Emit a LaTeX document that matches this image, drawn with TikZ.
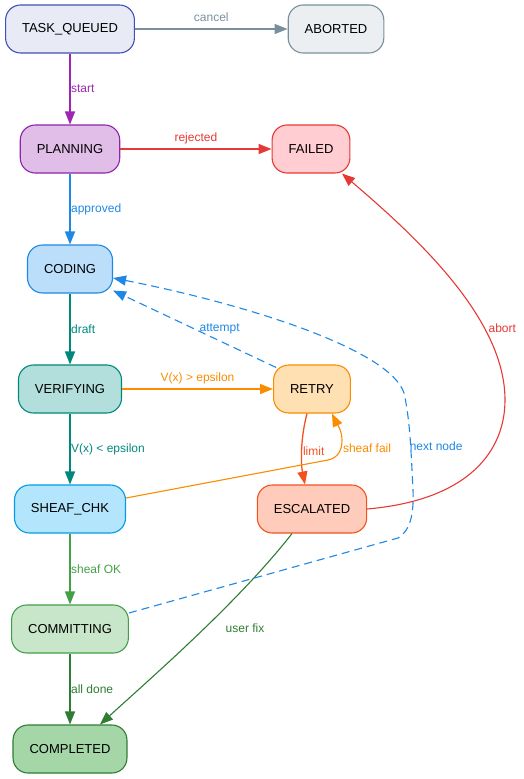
\documentclass[tikz,border=0pt]{standalone}
\usepackage{fontspec}
\setmainfont{Liberation Sans}
\usetikzlibrary{arrows.meta}

\definecolor{tqline}{HTML}{3F51B5}  \definecolor{tqfill}{HTML}{E8EAF6}
\definecolor{abline}{HTML}{78909C}  \definecolor{abfill}{HTML}{ECEFF1}
\definecolor{plline}{HTML}{8E24AA}  \definecolor{plfill}{HTML}{E1BEE7}
\definecolor{faline}{HTML}{E53935}  \definecolor{fafill}{HTML}{FFCDD2}
\definecolor{coline}{HTML}{1E88E5}  \definecolor{cofill}{HTML}{BBDEFB}
\definecolor{veline}{HTML}{00897B}  \definecolor{vefill}{HTML}{B2DFDB}
\definecolor{reline}{HTML}{FB8C00}  \definecolor{refill}{HTML}{FFE0B2}
\definecolor{shline}{HTML}{039BE5}  \definecolor{shfill}{HTML}{B3E5FC}
\definecolor{esline}{HTML}{F4511E}  \definecolor{esfill}{HTML}{FFCCBC}
\definecolor{cmline}{HTML}{43A047}  \definecolor{cmfill}{HTML}{C8E6C9}
\definecolor{cpline}{HTML}{2E7D32}  \definecolor{cpfill}{HTML}{A5D6A7}
\definecolor{startc}{HTML}{9C27B0}

\begin{document}
\begin{tikzpicture}[x=1pt, y=-1pt, >={Triangle[length=13pt,width=10pt]},
    state/.style 2 args={draw=#1, fill=#2, line width=1.1pt, rounded corners=15pt,
        minimum height=48pt, inner xsep=16.5pt, font=\fontsize{13}{15}\selectfont},
    flow/.style={->, line width=1.3pt},
    loose/.style={flow, dash pattern=on 8pt off 5pt},
    lbl/.style={font=\fontsize{12}{14}\selectfont, inner sep=0.5pt},
    side/.style={lbl, anchor=west},
    over/.style={lbl, anchor=base, yshift=8pt}]
    \useasboundingbox (0,0) rectangle (523,779);

    % States
    \node[state={tqline}{tqfill}] (tq) at (70,29) {TASK\_QUEUED};
    \node[state={abline}{abfill}] (ab) at (336,29) {ABORTED};
    \node[state={plline}{plfill}] (pl) at (70,149) {PLANNING};
    \node[state={faline}{fafill}] (fa) at (311,149) {FAILED};
    \node[state={coline}{cofill}] (co) at (70,269) {CODING};
    \node[state={veline}{vefill}] (ve) at (70,389) {VERIFYING};
    \node[state={reline}{refill}] (re) at (312,389) {RETRY};
    \node[state={shline}{shfill}] (sh) at (70,509) {SHEAF\_CHK};
    \node[state={esline}{esfill}] (es) at (312,509) {ESCALATED};
    \node[state={cmline}{cmfill}] (cm) at (70,629) {COMMITTING};
    \node[state={cpline}{cpfill}] (cp) at (70,749) {COMPLETED};

    % Main column
    \draw[flow, startc] (tq) -- node[side, midway] {start} (pl);
    \draw[flow, coline] (pl) -- node[side, midway] {approved} (co);
    \draw[flow, veline] (co) -- node[side, midway] {draft} (ve);
    \draw[flow, veline] (ve) -- node[side, midway] {V(x) < epsilon} (sh);
    \draw[flow, cmline] (sh) -- node[side, midway] {sheaf OK} (cm);
    \draw[flow, cpline] (cm) -- node[side, midway] {all done} (cp);

    % Side branches
    \draw[flow, abline] (tq) -- node[over, midway] {cancel} (ab);
    \draw[flow, faline] (pl) -- node[over, midway] {rejected} (fa);
    \draw[flow, reline] (ve) -- node[over, midway] {V(x) > epsilon} (re);
    \draw[flow, esline] ([xshift=-5pt]re.south) .. controls (300,440) and (301,465) ..
        node[side, pos=0.5] {limit} ([xshift=-7pt]es.north);
    \draw[flow, cpline, line width=1.1pt] ([xshift=-20pt]es.south) .. controls (240,600) and (160,670) ..
        node[lbl, pos=0.5, xshift=46pt, yshift=5pt] {user fix} ([xshift=30pt]cp.north);
    \draw[flow, faline, line width=1.1pt] (es.east) .. controls (470,500) and (505,450) .. (505,400)
        .. controls (505,320) and (420,240) .. node[side, pos=0.3, xshift=3pt] {abort} ([xshift=31pt]fa.south);
    \draw[flow, reline, line width=1.1pt] ([yshift=11pt]sh.east) -- (328,460)
        .. controls (338,458) and (342,450) .. (342,440) node[side, yshift=-8pt] {sheaf fail}
        .. controls (342,430) and (336,422) .. ([xshift=20pt]re.south);

    % Loops back to coding
    \draw[loose, coline, line width=1.1pt] ([xshift=3pt, yshift=-3pt]re.north west) --
        node[side, midway, xshift=4pt] {attempt} ([yshift=3pt]co.south east);
    \draw[loose, coline, line width=1.1pt] ([yshift=16pt]cm.east) -- (398,538)
        .. controls (410,531) and (414,515) .. (413,490)
        .. controls (411,450) and (410,420) .. node[side, pos=0.4, xshift=-2pt] {next node} (404,393)
        .. controls (390,350) and (250,305) .. ([yshift=-9pt]co.east);
\end{tikzpicture}
\end{document}
